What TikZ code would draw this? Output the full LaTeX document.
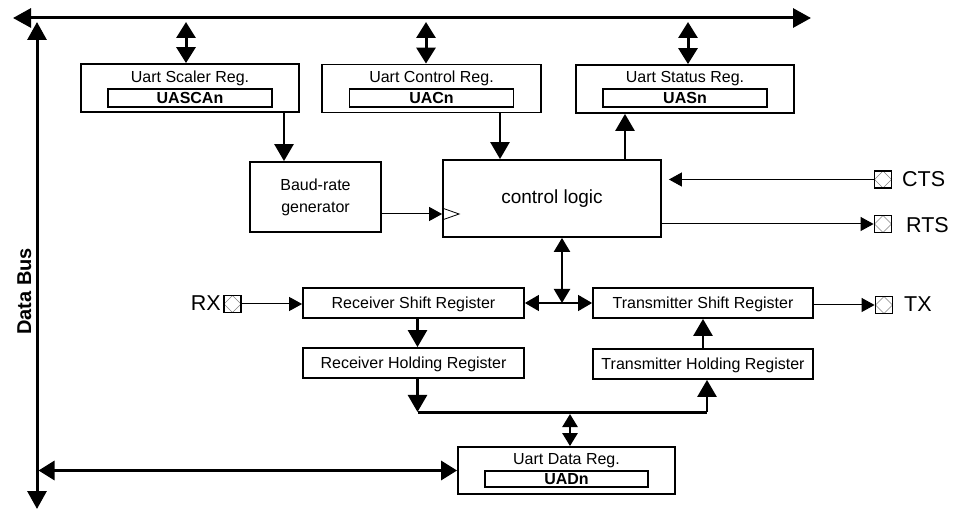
\documentclass[tikz,border=0pt]{standalone}
\usepackage{fontspec}
\setmainfont{Liberation Sans}
\usetikzlibrary{arrows.meta,calc}
\begin{document}
\begin{tikzpicture}[x=1pt,y=-1pt,
  plainbox/.style={draw,line width=1.8pt,inner sep=0pt},
  regbox/.style={plainbox,font=\fontsize{16}{19}\selectfont,text height=11.5pt,text depth=0pt},
  inbox/.style={regbox,font=\bfseries\fontsize{16}{19}\selectfont,minimum width=164pt,minimum height=18pt},
  ttl/.style={font=\fontsize{16}{19}\selectfont,anchor=base,inner sep=0pt},
  pinbox/.style={draw,line width=1.8pt,minimum size=17pt,inner sep=0pt,
    path picture={\draw[gray,line width=0.6pt] (path picture bounding box.north) -- (path picture bounding box.east) -- (path picture bounding box.south) -- (path picture bounding box.west) -- cycle;}},
  pinlbl/.style={font=\fontsize{21.5}{24}\selectfont,inner sep=0pt},
  bus/.style={line width=3pt,{Triangle[length=18pt,width=19pt]}-{Triangle[length=18pt,width=19pt]}},
  dbl/.style={line width=3pt,{Triangle[length=16pt,width=19pt]}-{Triangle[length=16pt,width=19pt]}},
  mid/.style={line width=2.6pt,-{Triangle[length=17pt,width=19pt]}},
  middbl/.style={line width=2.2pt,{Triangle[length=14pt,width=16pt]}-{Triangle[length=14pt,width=16pt]}},
  smalldbl/.style={line width=2.6pt,{Triangle[length=13pt,width=15pt]}-{Triangle[length=13pt,width=15pt]}},
  thinarr/.style={line width=1pt,-{Triangle[length=13pt,width=14pt]}},
  thindbl/.style={line width=1.3pt,{Triangle[length=14pt,width=16pt]}-{Triangle[length=14pt,width=16pt]}}
]
\useasboundingbox (0,0) rectangle (961,510);

\coordinate (busL) at (13,18);
\coordinate (busR) at (811,18);
\coordinate (vbT) at (37,22);
\coordinate (vbB) at (37,509);
\coordinate (jn) at (0,412);

% registers on top
\node[regbox,minimum width=218pt,minimum height=48pt] (scaler) at (190,88) {};
\node[ttl] (scalerT) at (190,83) {Uart Scaler Reg.};
\node[inbox] (scalerR) at (190,98) {UASCAn};

\node[regbox,minimum width=219pt,minimum height=48pt] (ctrl) at (431.5,88.5) {};
\node[ttl] (ctrlT) at (431.5,83) {Uart Control Reg.};
\node[inbox] (ctrlR) at (431.5,98) {UACn};

\node[regbox,minimum width=218pt,minimum height=48pt] (status) at (685,89) {};
\node[ttl] (statusT) at (685,83) {Uart Status Reg.};
\node[inbox] (statusR) at (685,98) {UASn};

% middle
\node[plainbox,minimum width=131pt,minimum height=70pt,align=center,font=\fontsize{16}{22}\selectfont] (baud) at (315.5,197) {Baud-rate\\generator};
\node[plainbox,minimum width=218pt,minimum height=77pt,font=\fontsize{19}{22}\selectfont] (cl) at (552,198.5) {control logic};

\node[regbox,minimum width=221pt,minimum height=30pt] (rsr) at (413.5,303) {Receiver Shift Register};
\node[regbox,minimum width=221pt,minimum height=30pt] (rhr) at (413.5,363) {Receiver Holding Register};
\node[regbox,minimum width=220pt,minimum height=30pt] (tsr) at (703,303) {Transmitter Shift Register};
\node[regbox,minimum width=220pt,minimum height=30pt] (thr) at (703,364) {Transmitter Holding Register};

\node[regbox,minimum width=217pt,minimum height=47pt] (data) at (566.5,470.5) {};
\node[ttl] (dataT) at (566.5,464) {Uart Data Reg.};
\node[inbox,minimum width=163pt,minimum height=16pt] (dataR) at (566.5,479) {UADn};

% pins
\node[pinbox] (ctsP) at (883,179.5) {};
\node[pinbox] (rtsP) at (883,224) {};
\node[pinbox] (rxP) at (232.5,304) {};
\node[pinbox] (txP) at (884,305) {};
\node[pinlbl,anchor=base west] (ctsL) at (902,187) {CTS};
\node[pinlbl,anchor=base west] (rtsL) at (906,232.5) {RTS};
\node[pinlbl,anchor=base west] (txL) at (904,312) {TX};
\node[pinlbl,anchor=base east] (rxL) at (221,311) {RX};

\node[font=\bfseries\fontsize{20}{24}\selectfont,rotate=90,anchor=base,inner sep=0pt] (dbus) at (31,291.5) {Data Bus};

% helper coordinates
\coordinate (a1) at ([xshift=-4pt]scaler.north);
\coordinate (a2) at ([xshift=-5.5pt]ctrl.north);
\coordinate (a3) at ([xshift=3pt]status.north);
\coordinate (a4) at ([xshift=94pt]scaler.south);
\coordinate (a5) at ([xshift=68.5pt]ctrl.south);
\coordinate (a6) at ([xshift=73pt]cl.north);
\coordinate (a7) at ([yshift=-17pt]baud.east);
\coordinate (a8) at ([xshift=10pt]cl.south);
\coordinate (a9) at ([xshift=4pt]rsr.south);
\coordinate (a10) at ([xshift=4pt]rhr.south);
\coordinate (a11) at ([xshift=4pt]thr.south);
\coordinate (a13) at ([xshift=3.5pt]data.north);
\coordinate (a14) at ([xshift=7pt]cl.east);
\coordinate (a15) at ([xshift=1.5pt]vbT);

% buses
\draw[bus] (busL) -- (busR);
\draw[bus] (vbT) -- (vbB);
\draw[dbl] (a1 |- vbT) -- (a1);
\draw[dbl] (a2 |- vbT) -- (a2);
\draw[dbl] (a3 |- vbT) -- (a3);

% connections
\draw[mid] (a4) -- (a4 |- baud.north);
\draw[mid] (a5) -- (a5 |- cl.north);
\draw[mid] (a6) -- (a6 |- status.south);
\draw[thinarr] (a7) -- (a7 -| cl.west);
\draw[line width=0.8pt] (a7 -| cl.west) ++(0,-6) -- ++(17,6) -- ++(-17,6);
\draw[thinarr] (ctsP.west) -- (a14 |- ctsP.west);
\draw[thinarr] (cl.east |- rtsP.west) -- (rtsP.west);
\draw[thinarr] (rxP.east) -- (rxP.east -| rsr.west);
\draw[thinarr] (tsr.east |- txP.west) -- (txP.west);
\draw[middbl] (a8) -- (a8 |- rsr.east);
\draw[thindbl] (rsr.east) -- (tsr.west);
\draw[mid] (a9) -- (a9 |- rhr.north);
\draw[mid] (thr.north) -- (tsr.south);
\draw[mid] (a10) -- (a10 |- jn);
\draw[line width=3pt] (a10 |- jn) -- (a11 |- jn);
\draw[mid] (a11 |- jn) -- (a11);
\draw[smalldbl,shorten <=2pt] (a13 |- jn) -- (a13);
\draw[dbl] (a15 |- data.west) -- (data.west);
\end{tikzpicture}
\end{document}
